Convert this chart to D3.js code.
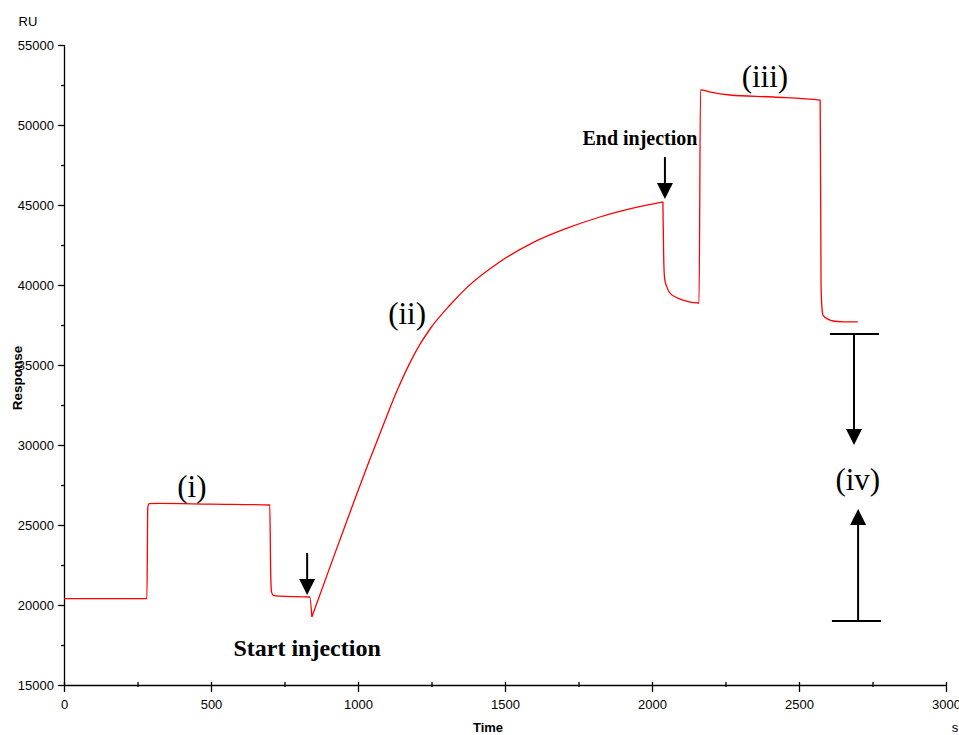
<!DOCTYPE html>
<html>
<head>
<meta charset="utf-8">
<script src="https://cdn.jsdelivr.net/npm/d3@7"></script>
<style>
  html, body { margin: 0; padding: 0; background: #fff; }
  svg { display: block; }
</style>
</head>
<body>
<svg id="chart" width="959" height="735"></svg>
<script>
// sensorgram (time in s, response in RU)
const times = [0, 282, 285, 290, 320, 500, 700, 703, 706, 712, 730, 836, 843,
  915, 973, 1031, 1085, 1133, 1177, 1211, 1245, 1313, 1371, 1483, 1595, 1711, 1823, 1935, 2037,
  2040, 2043, 2050, 2061, 2080, 2105, 2160,
  2165, 2200, 2265, 2412, 2572,
  2575, 2578, 2582, 2600, 2616, 2650, 2700];
const response = [20400, 20400, 26100, 26330, 26350, 26300, 26250, 22000, 20800, 20600, 20550, 20500, 19250,
  22900, 25800, 28650, 31200, 33400, 35150, 36300, 37250, 38750, 39850, 41450, 42650, 43550, 44250, 44800, 45200,
  41500, 40400, 39900, 39500, 39250, 39060, 38875,
  52200, 52050, 51875, 51750, 51550,
  40000, 38600, 38100, 37850, 37750, 37700, 37690];
// sharp corners of the trace (start-injection dip, end-injection peak)
const corners = [843, 2037];

const xMajor = [0, 500, 1000, 1500, 2000, 2500, 3000];
const xMinor = [250, 750, 1250, 1750, 2250, 2750];
const yMajor = [15000, 20000, 25000, 30000, 35000, 40000, 45000, 50000, 55000];
const yMinor = [17500, 22500, 27500, 32500, 37500, 42500, 47500, 52500];

// annotation texts, anchored in data units
const labels = [
  { text: '(i)', t: 435, v: 26750, size: 31, bold: false },
  { text: '(ii)', t: 1167, v: 37560, size: 31, bold: false },
  { text: '(iii)', t: 2384, v: 52375, size: 31, bold: false },
  { text: '(iv)', t: 2700, v: 27190, size: 31, bold: false },
  { text: 'Start injection', t: 827, v: 16810, size: 24, bold: true },
  { text: 'End injection', t: 1959, v: 48750, size: 20, bold: true },
];
// arrows: from (t, v0) to tip (t, v1)
const arrows = [
  { t: 827, v0: 23250, v1: 20625 },
  { t: 2044, v0: 48000, v1: 45375 },
  { t: 2687, v0: 36940, v1: 30000 },
  { t: 2701, v0: 19000, v1: 26000 },
];
// bars closing the (iv) range
const bars = [
  { t0: 2605, t1: 2772, v: 36940 },
  { t0: 2612, t1: 2779, v: 19000 },
];

const svg = d3.select('#chart');
const sans = 'Arial, "Liberation Sans", sans-serif';
const serif = '"Times New Roman", "Liberation Serif", serif';

const x = d3.scaleLinear().domain([0, 3000]).range([64, 946]);
const y = d3.scaleLinear().domain([15000, 55000]).range([685, 45]);

// x axis
const gx = svg.append('g').attr('transform', `translate(0,${y(15000)})`);
gx.call(d3.axisBottom(x).tickValues(xMajor).tickSize(7).tickSizeOuter(0).tickPadding(8).tickFormat(d3.format('d')));
gx.selectAll('.tick line').attr('y1', -3);
const gxm = svg.append('g').attr('transform', `translate(0,${y(15000)})`);
gxm.call(d3.axisBottom(x).tickValues(xMinor).tickSize(2).tickFormat(''));
gxm.select('.domain').remove();
gxm.selectAll('.tick line').attr('y1', -3);

// y axis
const gy = svg.append('g').attr('transform', `translate(${x(0)},0)`);
gy.call(d3.axisLeft(y).tickValues(yMajor).tickSize(6).tickSizeOuter(0).tickPadding(4).tickFormat(d3.format('d')));
gy.selectAll('.tick line').attr('x1', 1);
const gym = svg.append('g').attr('transform', `translate(${x(0)},0)`);
gym.call(d3.axisLeft(y).tickValues(yMinor).tickSize(3).tickFormat(''));
gym.select('.domain').remove();

svg.selectAll('.tick text').attr('font-family', sans).attr('font-size', 13).attr('fill', '#000');
svg.selectAll('.domain, .tick line').attr('stroke', '#000').attr('stroke-width', 1.3);

// axis titles and units
svg.append('text').attr('x', 28).attr('y', 26).attr('text-anchor', 'middle')
  .attr('font-family', sans).attr('font-size', 13).text('RU');
svg.append('text').attr('x', 955).attr('y', 732).attr('text-anchor', 'middle')
  .attr('font-family', sans).attr('font-size', 13).text('s');
svg.append('text').attr('x', 488).attr('y', 732).attr('text-anchor', 'middle')
  .attr('font-family', sans).attr('font-size', 13).attr('font-weight', 'bold').text('Time');
svg.append('text').attr('transform', 'translate(22,378) rotate(-90)').attr('text-anchor', 'middle')
  .attr('font-family', sans).attr('font-size', 13.5).attr('font-weight', 'bold').text('Response');

// the curve, smooth between the sharp corners
const pts = times.map((t, i) => [t, response[i]]);
const line = d3.line().curve(d3.curveMonotoneX).x(d => x(d[0])).y(d => y(d[1]));
const cuts = corners.map(c => times.indexOf(c));
const starts = [0, ...cuts];
const ends = [...cuts, pts.length - 1];
const d = starts.map((s, i) => line(pts.slice(s, ends[i] + 1))).join('');
svg.append('path')
  .attr('fill', 'none')
  .attr('stroke', '#ff0000')
  .attr('stroke-width', 1.3)
  .attr('stroke-linejoin', 'round')
  .attr('d', d);

// annotation labels
svg.selectAll('text.note')
  .data(labels)
  .join('text')
  .attr('class', 'note')
  .attr('x', d => x(d.t))
  .attr('y', d => y(d.v))
  .attr('text-anchor', 'middle')
  .attr('font-family', serif)
  .attr('font-size', d => d.size)
  .attr('font-weight', d => d.bold ? 'bold' : 'normal')
  .text(d => d.text);

// arrows
const head = 16;
arrows.forEach(a => {
  const ax = x(a.t), y0 = y(a.v0), y1 = y(a.v1);
  const dir = y1 > y0 ? 1 : -1;
  svg.append('line')
    .attr('x1', ax).attr('x2', ax)
    .attr('y1', y0).attr('y2', y1 - dir * head)
    .attr('stroke', '#000').attr('stroke-width', 2);
  svg.append('path')
    .attr('d', `M${ax},${y1} L${ax - head / 2},${y1 - dir * head} L${ax + head / 2},${y1 - dir * head} Z`)
    .attr('fill', '#000');
});

svg.selectAll('line.bar')
  .data(bars)
  .join('line')
  .attr('class', 'bar')
  .attr('x1', d => x(d.t0)).attr('x2', d => x(d.t1))
  .attr('y1', d => y(d.v)).attr('y2', d => y(d.v))
  .attr('stroke', '#000').attr('stroke-width', 2);
</script>
</body>
</html>
